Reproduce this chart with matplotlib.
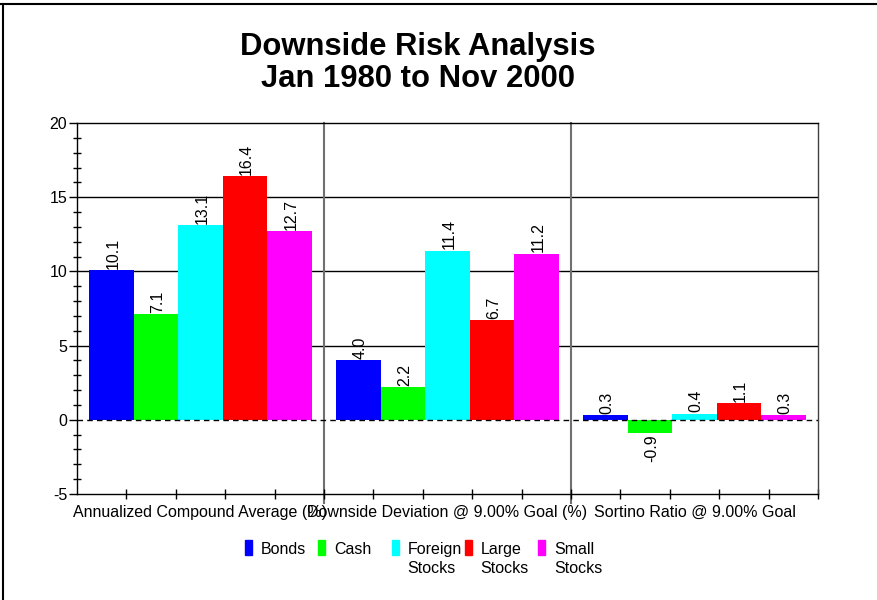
import matplotlib.pyplot as plt
from matplotlib.lines import Line2D
from matplotlib.patches import Rectangle
from matplotlib import ticker

plt.rcParams['font.family'] = ['Liberation Sans', 'DejaVu Sans']
plt.rcParams['axes.unicode_minus'] = False

# values
categories = ['Annualized Compound Average (%)',
              'Downside Deviation @ 9.00% Goal (%)',
              'Sortino Ratio @ 9.00% Goal']
series = ['Bonds', 'Cash', 'Foreign\nStocks', 'Large\nStocks', 'Small\nStocks']
colors = ['#0000ff', '#00ff00', '#00ffff', '#ff0000', '#ff00ff']
bonds = [10.1, 4.0, 0.3]
cash = [7.1, 2.2, -0.9]
foreign_stocks = [13.1, 11.4, 0.4]
large_stocks = [16.4, 6.7, 1.1]
small_stocks = [12.7, 11.2, 0.3]
all_values = [bonds, cash, foreign_stocks, large_stocks, small_stocks]

fig = plt.figure(figsize=(8.78, 6.0), dpi=100)
ax = fig.add_axes([77/878, 1-494/600, (818-77)/878, (494-123)/600])

width = 0.18
for j, vals in enumerate(all_values):
    xs = [i + 0.14 + j*width for i in range(len(categories))]
    ax.bar(xs, vals, width=width, color=colors[j], edgecolor='none', zorder=2)
    for x, v in zip(xs, vals):
        if v >= 0:
            ax.annotate(f'{v:.1f}', (x, v), xytext=(1, 1), textcoords='offset points',
                        rotation=90, ha='center', va='bottom', fontsize=11.5, zorder=4)
        else:
            ax.annotate(f'{v:.1f}', (x, v), xytext=(1, -1), textcoords='offset points',
                        rotation=90, ha='center', va='top', fontsize=11.5, zorder=4)

ax.set_xlim(0, 3)
ax.set_ylim(-5, 20)
for y in [5, 10, 15]:
    ax.axhline(y, color='black', lw=1, zorder=1)
for x in [1, 2]:
    ax.axvline(x, ymin=-0.025, color='#707070', lw=1.5, zorder=1, clip_on=False)
ax.axhline(0, color='black', lw=1, ls=(0, (4, 3)), zorder=3)

ax.yaxis.set_major_locator(ticker.MultipleLocator(5))
ax.yaxis.set_minor_locator(ticker.MultipleLocator(1))
ax.tick_params(axis='y', which='major', direction='out', length=6, width=1,
               labelsize=11.5, pad=1)
ax.tick_params(axis='y', which='minor', direction='inout', length=6, width=1)
ax.set_xticks([0.2*k for k in range(1, 16)])
ax.set_xticklabels([])
ax.tick_params(axis='x', which='major', direction='inout', length=7, width=1)

for i, name in enumerate(categories):
    ax.annotate(name, (i + 0.5, 0), xycoords=('data', 'axes fraction'),
                xytext=(0, -8), textcoords='offset points',
                ha='center', va='top', fontsize=11.5)

for s in ax.spines.values():
    s.set_linewidth(1)
ax.spines['right'].set_color('#404040')

fig.text(418/878, 1-63/600, 'Downside Risk Analysis\nJan 1980 to Nov 2000',
         ha='center', va='center', fontsize=22.3, fontweight='bold', linespacing=1.1)

# legend drawn by hand with equal spacing, as in the reference
for j, name in enumerate(series):
    x0 = (245 + j*73.25)/878
    fig.add_artist(Rectangle((x0, 1-555/600), 7/878, 15/600,
                             color=colors[j], transform=fig.transFigure))
    fig.text(x0 + 16/878, 1-542/600, name, ha='left', va='top', fontsize=11.5,
             linespacing=1.32)

# outer frame
fig.add_artist(Line2D([0, 1], [1-3.5/600, 1-3.5/600], color='black', lw=1.5,
                      transform=fig.transFigure))
fig.add_artist(Line2D([3/878, 3/878], [0, 1-3.5/600], color='black', lw=1.5,
                      transform=fig.transFigure))

fig.savefig('out.png', dpi=100)
